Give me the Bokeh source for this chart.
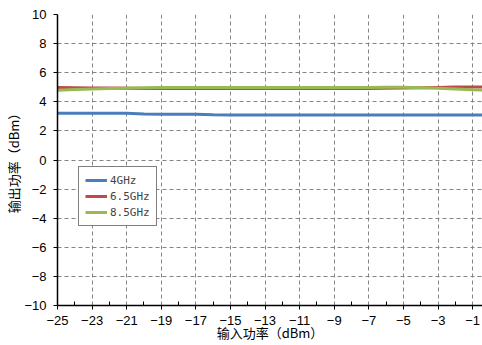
from bokeh.plotting import figure
from bokeh.models import FixedTicker, Legend, LegendItem, Range1d
from bokeh.embed import file_html
from bokeh.resources import INLINE

# ---- data ----
x_in = [-25, -24, -23, -22, -21, -20, -19, -18, -17, -16, -15, -14, -13, -12,
        -11, -10, -9, -8, -7, -6, -5, -4, -3, -2, -1, 0]
p_4ghz = [3.22, 3.22, 3.22, 3.22, 3.21, 3.16, 3.15, 3.15, 3.15, 3.11, 3.10, 3.10, 3.10,
          3.10, 3.10, 3.10, 3.10, 3.10, 3.10, 3.10, 3.10, 3.10, 3.10, 3.10, 3.10, 3.10]
p_65ghz = [4.98, 4.97, 4.95, 4.94, 4.93, 4.92, 4.92, 4.92, 4.92, 4.92, 4.92, 4.92, 4.92,
           4.92, 4.92, 4.92, 4.92, 4.92, 4.92, 4.93, 4.95, 4.97, 4.99, 5.01, 5.02, 5.02]
p_85ghz = [4.80, 4.84, 4.88, 4.92, 4.95, 4.97, 4.98, 4.98, 4.98, 4.98, 4.98, 4.98, 4.98,
           4.98, 4.98, 4.98, 4.98, 4.98, 4.99, 5.00, 5.00, 4.97, 4.93, 4.88, 4.83, 4.80]
series_names = ["4GHz", "6.5GHz", "8.5GHz"]
series_colors = ["#4A7EBB", "#BE4B48", "#98B954"]

x_ticks = [-25, -23, -21, -19, -17, -15, -13, -11, -9, -7, -5, -3, -1]
x_minor = [-24, -22, -20, -18, -16, -14, -12, -10, -8, -6, -4, -2]
y_ticks = [-10, -8, -6, -4, -2, 0, 2, 4, 6, 8, 10]
x_title = "输入功率（dBm）"
y_title = "输出功率（dBm）"

def lab(v):
    return str(v).replace("-", "\u2212")

p = figure(width=482, height=345, output_backend="svg", toolbar_location=None,
           x_range=Range1d(-25, -0.43), y_range=Range1d(-10, 10),
           min_border_left=57, min_border_right=0, min_border_top=14, min_border_bottom=40)
p.outline_line_color = None
p.background_fill_color = "white"
p.border_fill_color = "white"

renderers = []
for ys, c in zip([p_4ghz, p_65ghz, p_85ghz], series_colors):
    r = p.line(x_in, ys, line_color=c, line_width=3)
    renderers.append(r)

# axes
p.xaxis.ticker = FixedTicker(ticks=x_ticks, minor_ticks=x_minor)
p.yaxis.ticker = FixedTicker(ticks=y_ticks, minor_ticks=[])
p.xaxis.major_label_overrides = {t: lab(t) for t in x_ticks}
p.yaxis.major_label_overrides = {t: lab(t) for t in y_ticks}
for ax in (p.xaxis, p.yaxis):
    ax.axis_line_color = "black"
    ax.axis_line_width = 1.5
    ax.major_tick_line_color = "black"
    ax.major_tick_out = 4
    ax.major_tick_in = 0
    ax.minor_tick_line_color = "black"
    ax.minor_tick_in = 4
    ax.minor_tick_out = 0
    ax.major_label_text_font = "Liberation Sans"
    ax.major_label_text_font_size = "13px"
    ax.major_label_text_color = "black"
    ax.axis_label_text_font = "Noto Sans CJK SC"
    ax.axis_label_text_font_size = "13px"
    ax.axis_label_text_font_style = "normal"
    ax.axis_label_text_color = "black"
p.xaxis.axis_label = x_title
p.yaxis.axis_label = y_title
p.xaxis.major_label_standoff = 6
p.xaxis.axis_label_standoff = -5
p.yaxis.major_label_standoff = 7
p.yaxis.axis_label_standoff = -2

# grid
for g in (p.xgrid, p.ygrid):
    g.grid_line_color = "#858585"
    g.grid_line_dash = "4 3"
    g.grid_line_width = 1
p.xgrid.ticker = FixedTicker(ticks=x_ticks)
p.ygrid.ticker = FixedTicker(ticks=y_ticks)

legend = Legend(items=[LegendItem(label=n, renderers=[r]) for n, r in zip(series_names, renderers)],
                location=(21, 79), margin=0, padding=6, spacing=2,
                label_height=14, glyph_height=14, glyph_width=22, label_standoff=3,
                label_text_font="DejaVu Sans Mono", label_text_font_size="11px",
                border_line_color="black", border_line_width=1,
                background_fill_alpha=1.0)
p.add_layout(legend, "center")

open("out.html", "w").write(file_html(p, INLINE))
